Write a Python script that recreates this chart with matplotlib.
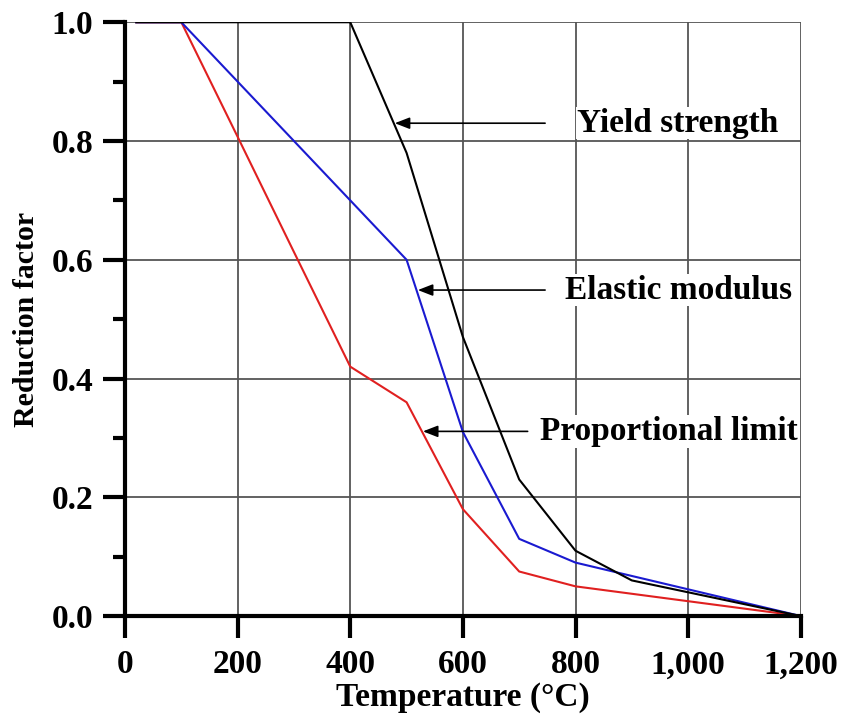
import matplotlib.pyplot as plt
from matplotlib.ticker import MultipleLocator, FuncFormatter

# steel reduction factors vs temperature
temp = [20, 100, 200, 300, 400, 500, 600, 700, 800, 900, 1000, 1100, 1200]
yield_strength = [1.0, 1.0, 1.0, 1.0, 1.0, 0.78, 0.47, 0.23, 0.11, 0.06, 0.04, 0.02, 0.0]
elastic_modulus = [1.0, 1.0, 0.9, 0.8, 0.7, 0.6, 0.31, 0.13, 0.09, 0.0675, 0.045, 0.0225, 0.0]
prop_limit = [1.0, 1.0, 0.807, 0.613, 0.42, 0.36, 0.18, 0.075, 0.05, 0.0375, 0.025, 0.0125, 0.0]

labels = ['Yield strength', 'Elastic modulus', 'Proportional limit']
arrow_tip = [(479, 0.83), (520, 0.549), (529, 0.311)]
arrow_tail = [(746, 0.83), (746, 0.549), (715, 0.311)]
text_x = [802, 781, 737]

plt.rcParams['font.family'] = ['Liberation Serif', 'DejaVu Serif']
plt.rcParams['font.weight'] = 'bold'

fig = plt.figure(figsize=(8.42, 7.18), dpi=100)
ax = fig.add_axes([0.1485, 0.142, 0.8025, 0.827])

ax.plot(temp, prop_limit, color='#e02020', lw=1.5, zorder=3)
ax.plot(temp, elastic_modulus, color='#1a1ad0', lw=1.5, zorder=4)
ax.plot(temp, yield_strength, color='black', lw=1.5, zorder=5)

ax.set_xlim(0, 1200)
ax.set_ylim(0, 1.0)
ax.xaxis.set_major_locator(MultipleLocator(200))
ax.yaxis.set_major_locator(MultipleLocator(0.2))
ax.yaxis.set_minor_locator(MultipleLocator(0.1))
ax.xaxis.set_major_formatter(FuncFormatter(lambda v, p: '{:,.0f}'.format(v)))
ax.yaxis.set_major_formatter(FuncFormatter(lambda v, p: '{:.1f}'.format(v)))

ax.grid(True, which='major', color='#555555', lw=1.3)
ax.set_axisbelow(True)

for s in ['top', 'right']:
    ax.spines[s].set_visible(False)
ax.spines['left'].set_linewidth(3)
ax.spines['bottom'].set_linewidth(3)
ax.spines['left'].set_zorder(6)
ax.spines['bottom'].set_zorder(6)

ax.tick_params(axis='both', which='major', direction='out', length=16, width=3,
               labelsize=24, pad=7)
ax.tick_params(axis='y', which='minor', direction='out', length=9, width=3)
ax.tick_params(axis='x', which='major', pad=8)
for lab in ax.get_xticklabels() + ax.get_yticklabels():
    lab.set_fontweight('bold')

ax.set_xlabel('Temperature (\u00b0C)', fontsize=24, fontweight='bold', labelpad=1)
ax.set_ylabel('Reduction factor', fontsize=21.5, fontweight='bold', labelpad=8)

for lab, tip, tail, tx in zip(labels, arrow_tip, arrow_tail, text_x):
    ax.annotate('', xy=tip, xytext=tail,
                arrowprops=dict(arrowstyle='-|>,head_length=0.9,head_width=0.35',
                                color='black', lw=1.2, shrinkA=0, shrinkB=0),
                zorder=7)
    ax.text(tx, tip[1], lab, fontsize=24, fontweight='bold', va='center', ha='left',
            zorder=7, bbox=dict(facecolor='white', edgecolor='none', pad=0.5))

fig.savefig('out.png', dpi=100)
